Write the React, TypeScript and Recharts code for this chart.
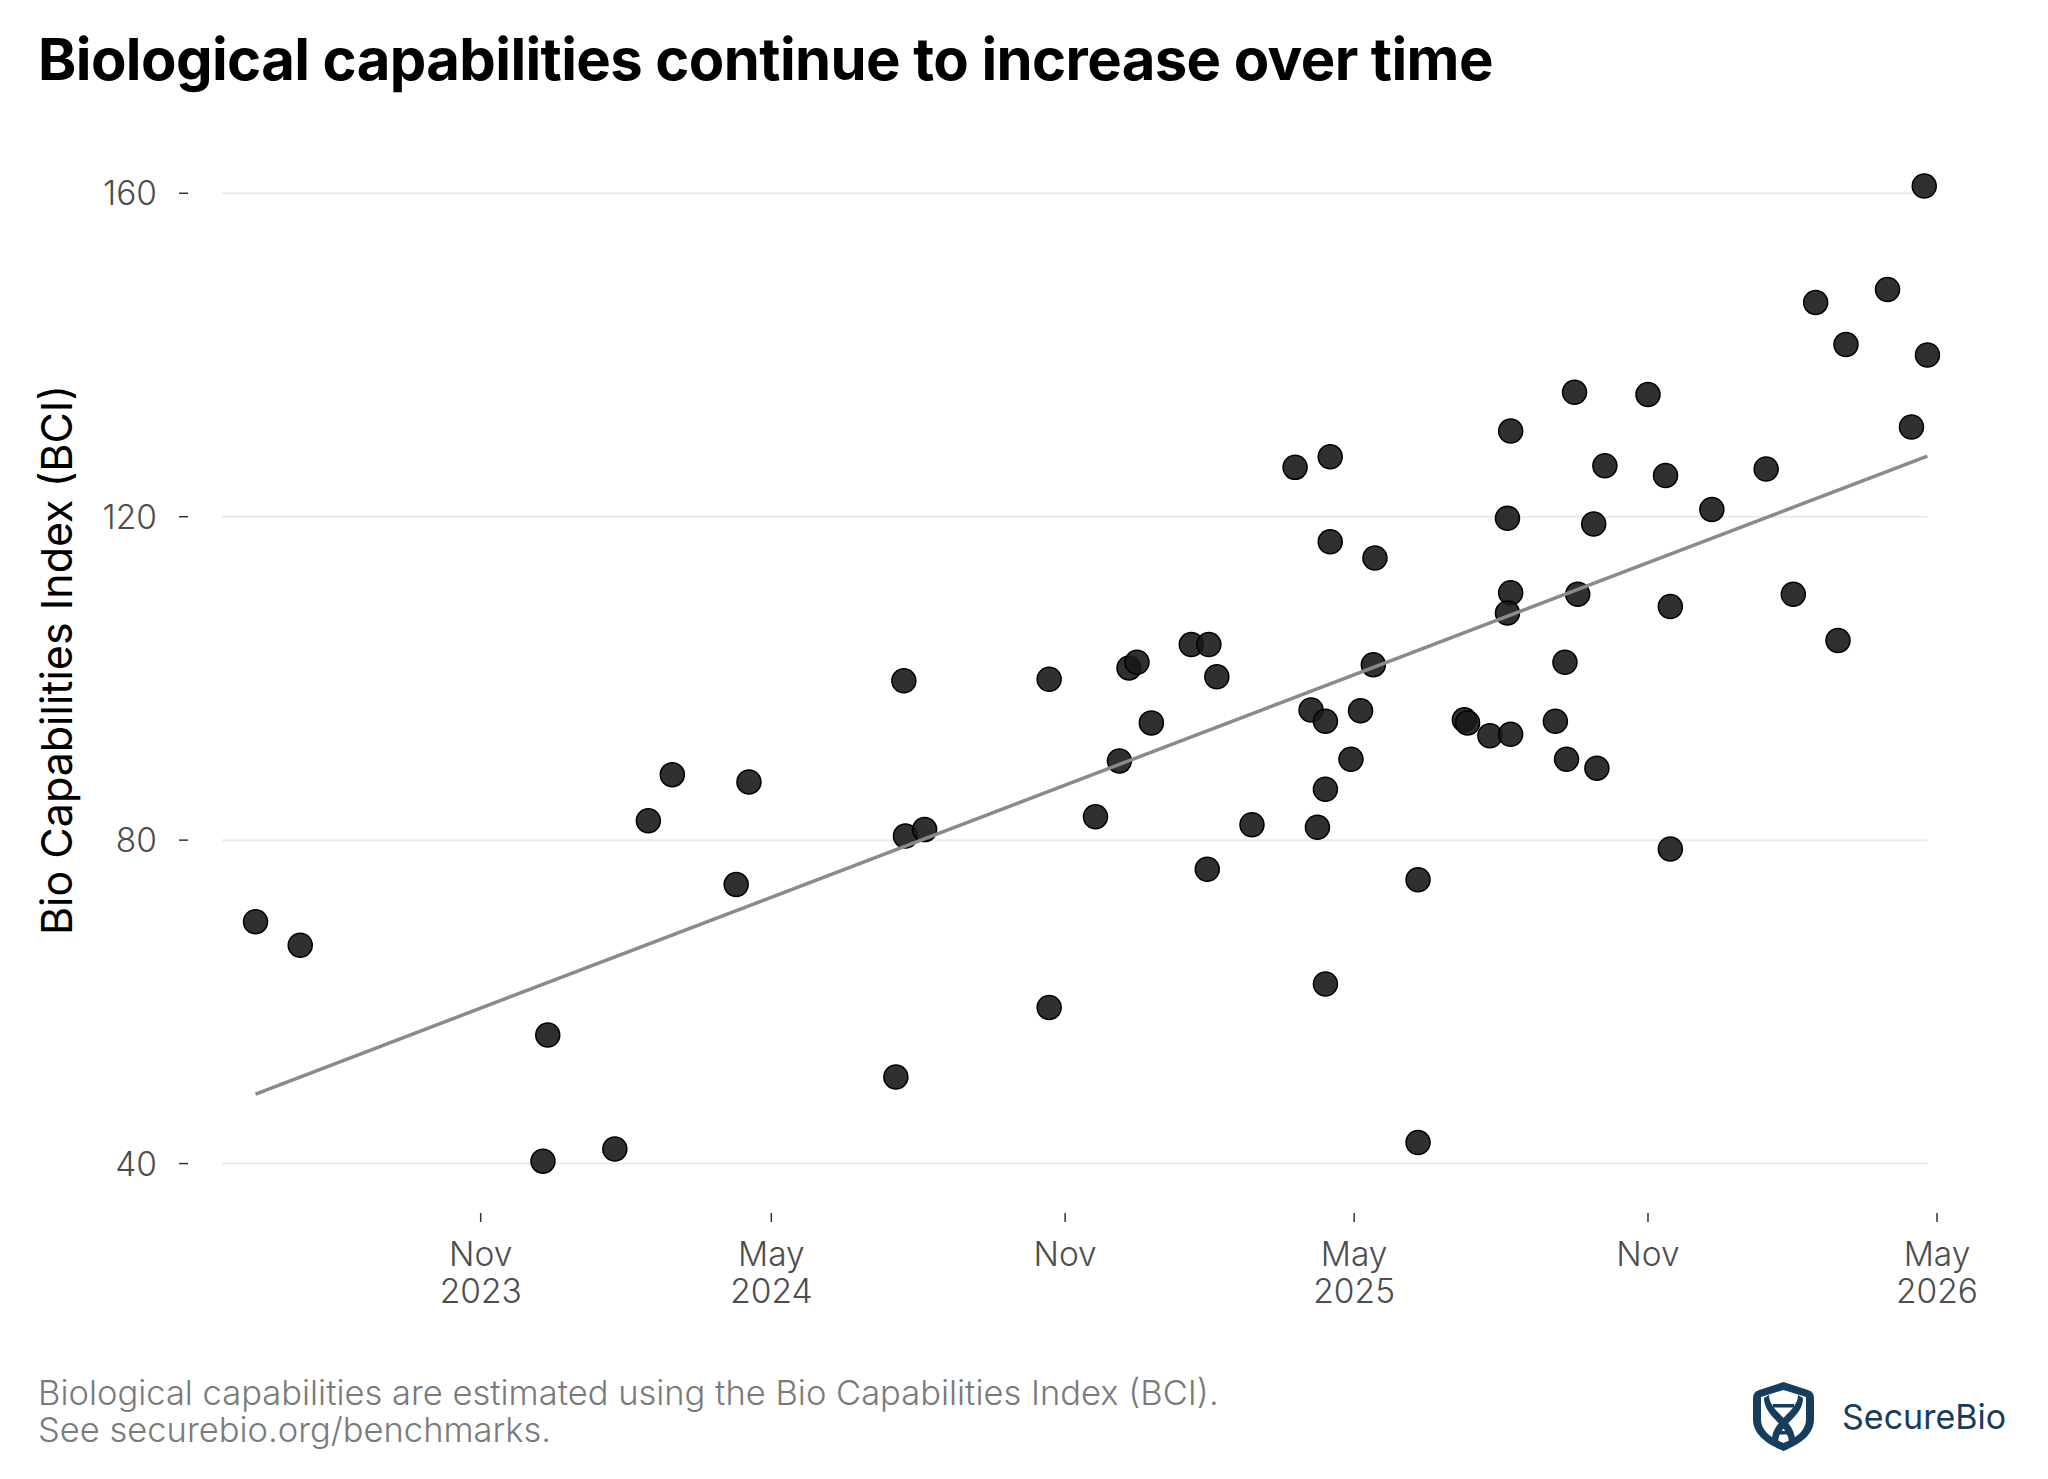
import React from 'react';
import { ScatterChart, Scatter, XAxis, YAxis, ReferenceLine } from 'recharts';

// model release dates and their BCI scores
const releaseDates = [
  '2023-06-13', '2023-07-11', '2023-12-13', '2023-12-10', '2024-01-24',
  '2024-02-14', '2024-02-29', '2024-04-09', '2024-04-17', '2024-07-18',
  '2024-07-23', '2024-07-24', '2024-08-05', '2024-10-22', '2024-10-22',
  '2024-11-20', '2024-12-05', '2024-12-11', '2024-12-16', '2024-12-25',
  '2025-01-19', '2025-01-30', '2025-02-04', '2025-01-29', '2025-02-26',
  '2025-03-25', '2025-04-16', '2025-04-16', '2025-04-04', '2025-04-13',
  '2025-04-08', '2025-04-13', '2025-04-13', '2025-04-29', '2025-05-05',
  '2025-05-14', '2025-05-13', '2025-06-10', '2025-06-10', '2025-07-09',
  '2025-07-11', '2025-07-25', '2025-08-07', '2025-08-05', '2025-08-07',
  '2025-08-05', '2025-08-07', '2025-09-04', '2025-09-10', '2025-09-11',
  '2025-09-16', '2025-09-18', '2025-09-28', '2025-09-30', '2025-10-05',
  '2025-11-01', '2025-11-12', '2025-11-15', '2025-11-15', '2025-12-11',
  '2026-01-14', '2026-01-31', '2026-02-14', '2026-02-28', '2026-03-05',
  '2026-03-31', '2026-04-15', '2026-04-23', '2026-04-25',
];

const bciScores = [
  69.9, 67.0, 55.9, 40.3, 41.8,
  82.4, 88.1, 74.5, 87.2, 50.7,
  99.7, 80.5, 81.3, 99.9, 59.3,
  82.9, 89.8, 101.3, 102.0, 94.5,
  104.2, 104.2, 100.2, 76.4, 81.9,
  126.1, 127.4, 116.9, 96.1, 94.7,
  81.6, 86.3, 62.2, 90.0, 96.0,
  114.9, 101.7, 75.1, 42.6, 94.9,
  94.5, 92.9, 130.6, 119.8, 110.6,
  108.1, 93.1, 94.7, 102.0, 90.0,
  135.4, 110.4, 119.1, 88.9, 126.3,
  135.1, 125.1, 108.9, 78.9, 120.9,
  125.9, 110.4, 146.5, 104.7, 141.3,
  148.1, 131.1, 160.9, 140.0,
];

// fitted trend line endpoints
const trendDates = ['2023-06-13', '2026-04-25'];
const trendValues = [48.6, 127.5];

const xTickDates = ['2023-11-01', '2024-05-01', '2024-11-01', '2025-05-01', '2025-11-01', '2026-05-01'];
const xTickLabels = [['Nov', '2023'], ['May', '2024'], ['Nov'], ['May', '2025'], ['Nov'], ['May', '2026']];
const yTicks = [40, 80, 120, 160];

const toTime = (s: string) => Date.parse(s + 'T00:00:00Z');

const points = releaseDates.map((d, i) => ({ date: toTime(d), bci: bciScores[i] }));
const trend = trendDates.map((d, i) => ({ date: toTime(d), bci: trendValues[i] }));
const xTicks = xTickDates.map(toTime);

const X_DOMAIN = [toTime('2023-05-23'), toTime('2026-05-06')];
const GRID_END = toTime('2026-04-25');

const FONT = 'Inter, "DejaVu Sans", sans-serif';

const XTick = (props: any) => {
  const { x, y, payload } = props;
  const idx = xTicks.indexOf(payload.value);
  const lines = idx >= 0 ? xTickLabels[idx] : [];
  return (
    <g>
      <line x1={x} x2={x} y1={y + 9} y2={y + 18} stroke="#333" strokeWidth={1.5} />
      {lines.map((t, i) => (
        <text key={i} x={x} y={y + 62 + i * 37} textAnchor="middle" fill="#4d4d4d" fontSize={33.5} fontFamily={FONT} fontWeight={300}>
          {t}
        </text>
      ))}
    </g>
  );
};

const YTick = (props: any) => {
  const { x, y, payload } = props;
  return (
    <g>
      <line x1={x - 43} x2={x - 34} y1={y} y2={y} stroke="#333" strokeWidth={1.5} />
      <text x={x - 65} y={y + 12} textAnchor="end" fill="#4d4d4d" fontSize={33.5} fontFamily={FONT} fontWeight={300}>
        {payload.value}
      </text>
    </g>
  );
};

const Dot = (props: any) => {
  const { cx, cy } = props;
  return <circle cx={cx} cy={cy} r={12} fill="#1a1a1a" fillOpacity={0.9} stroke="#000" strokeWidth={1.5} />;
};

const ShieldLogo = () => (
  <svg width={63} height={69} viewBox="0 0 63 69">
    <path d="M31.5 0 L56 8 Q62 10 62 16 L62 37 C62 53 48 62 31.5 69 C15 62 1 53 1 37 L1 16 Q1 10 7 8 Z" fill="#163d5c" />
    <path d="M31.5 8 L54 15 L54 37 C54 49 44 56 31.5 61 C19 56 9 49 9 37 L9 15 Z" fill="#fff" />
    <path d="M17 13 C17 30 43 38 43 58 L37 61 C37 42 12 36 12 16 Z" fill="#163d5c" />
    <path d="M46 13 C46 30 20 38 20 58 L26 61 C26 42 51 36 51 16 Z" fill="#163d5c" />
    <rect x={21} y={22} width={21} height={3.5} fill="#163d5c" />
    <rect x={23} y={49} width={17} height={3.5} fill="#163d5c" />
  </svg>
);

export default function App() {
  return (
    <div style={{ position: 'absolute', left: 0, top: 0, width: 2048, height: 1479, background: '#fff', fontFamily: FONT }}>
      <div style={{ position: 'absolute', left: 38, top: 24, fontSize: 58, fontWeight: 700, color: '#000', whiteSpace: 'nowrap', letterSpacing: -0.6 }}>
        Biological capabilities continue to increase over time
      </div>

      <div
        style={{
          position: 'absolute',
          left: 56,
          top: 660,
          transform: 'translate(-50%, -50%) rotate(-90deg)',
          fontSize: 43,
          color: '#000',
          whiteSpace: 'nowrap',
        }}
      >
        Bio Capabilities Index (BCI)
      </div>

      <div style={{ position: 'absolute', left: 0, top: 0 }}>
        <ScatterChart width={2048} height={1324} margin={{ top: 169, right: 103, bottom: 0, left: 0 }}>
          {yTicks.map((v) => (
            <ReferenceLine
              key={v}
              segment={[{ x: X_DOMAIN[0], y: v }, { x: GRID_END, y: v }]}
              stroke="#ebebeb"
              strokeWidth={2}
            />
          ))}
          <XAxis
            dataKey="date"
            type="number"
            scale="time"
            domain={X_DOMAIN}
            ticks={xTicks}
            tick={<XTick />}
            tickLine={false}
            axisLine={false}
            tickSize={0}
            tickMargin={0}
            height={120}
            allowDataOverflow
          />
          <YAxis
            dataKey="bci"
            type="number"
            domain={[35, 163]}
            ticks={yTicks}
            tick={<YTick />}
            tickLine={false}
            axisLine={false}
            tickSize={0}
            tickMargin={0}
            width={222}
            allowDataOverflow
          />
          <Scatter data={points} shape={<Dot />} isAnimationActive={false} />
          <Scatter
            data={trend}
            line={{ stroke: '#8a8a8a', strokeWidth: 3.5 }}
            shape={() => <g />}
            isAnimationActive={false}
          />
        </ScatterChart>
      </div>

      <div style={{ position: 'absolute', left: 38, top: 1374, fontSize: 34.5, lineHeight: '37px', color: '#7a7a7a', fontWeight: 300, whiteSpace: 'nowrap' }}>
        Biological capabilities are estimated using the Bio Capabilities Index (BCI).
        <br />
        See securebio.org/benchmarks.
      </div>

      <div style={{ position: 'absolute', left: 1752, top: 1382 }}>
        <ShieldLogo />
      </div>
      <div style={{ position: 'absolute', left: 1842, top: 1397, fontSize: 34, lineHeight: '40px', color: '#163d5c', whiteSpace: 'nowrap' }}>
        SecureBio
      </div>
    </div>
  );
}
